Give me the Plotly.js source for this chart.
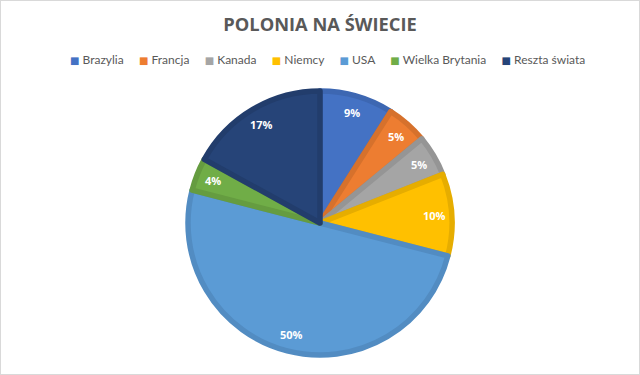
<!DOCTYPE html>
<html>
<head>
<meta charset="utf-8">
<script src="https://cdn.plot.ly/plotly-3.0.1.min.js"></script>
<style>
html,body{margin:0;padding:0;background:#fff;}
#chart{width:640px;height:375px;box-sizing:border-box;border:1px solid #d9d9d9;}
</style>
</head>
<body>
<div id="chart"></div>
<script>
const categories = ["Brazylia", "Francja", "Kanada", "Niemcy", "USA", "Wielka Brytania", "Reszta świata"];
const shares = [9, 5, 5, 10, 50, 4, 17];
const colors = ["#4472C4", "#ED7D31", "#A5A5A5", "#FFC000", "#5B9BD5", "#70AD47", "#264478"];
const borderColors = ["#3D67B2", "#D6712C", "#959595", "#E6AD00", "#528CC2", "#659C40", "#223D6C"];
const title = "POLONIA NA ŚWIECIE";

const W = 638, H = 373;          // plot size inside the 1px frame
const cx = 319, cy = 222;        // pie centre (px, plot coords)
const R = 132;                   // pie radius without stroke
const labelR = 115;              // radius where value labels sit

const trace = {
  type: "pie",
  labels: categories,
  values: shares,
  sort: false,
  direction: "clockwise",
  rotation: 0,
  marker: {colors: colors, line: {color: borderColors, width: 5.5}},
  textinfo: "none",
  hoverinfo: "label+percent",
  showlegend: false,
  domain: {x: [(cx - R) / W, (cx + R) / W], y: [1 - (cy + R) / H, 1 - (cy - R) / H]}
};

// value labels placed at each slice's mid angle (computed from the data)
const total = shares.reduce((a, b) => a + b, 0);
const annotations = [];
let cum = 0;
shares.forEach((v, i) => {
  const mid = (cum + v / 2) / total * 2 * Math.PI;
  cum += v;
  const px = cx + labelR * Math.sin(mid);
  const py = cy - labelR * Math.cos(mid);
  annotations.push({
    xref: "paper", yref: "paper", x: px / W, y: 1 - py / H,
    xanchor: "center", yanchor: "middle", showarrow: false,
    text: Math.round(v / total * 100) + "%",
    font: {family: "Open Sans", size: 11, color: "#ffffff", weight: "bold"}
  });
});

// legend row
const gap = "\u00A0\u00A0\u00A0\u00A0\u00A0";
const legendText = categories.map((c, i) =>
  `<span style="color:${colors[i]};font-family:'DejaVu Sans';font-size:10px">■</span>\u00A0${c}`
).join(gap);
annotations.push({
  xref: "paper", yref: "paper", x: 327 / W, y: 1 - 58 / H,
  xanchor: "center", yanchor: "middle", showarrow: false,
  text: legendText,
  font: {family: "Lato", size: 12, color: "#595959"}
});

const layout = {
  width: W, height: H,
  margin: {l: 0, r: 0, t: 0, b: 0},
  paper_bgcolor: "#ffffff",
  title: {text: title, x: 0.5, xanchor: "center", y: 1 - 24 / H, yanchor: "middle",
          font: {family: "Open Sans", size: 18.3, color: "#595959", weight: "bold"}},
  showlegend: false,
  annotations: annotations,
  font: {family: "Open Sans"}
};

Plotly.newPlot("chart", [trace], layout, {displayModeBar: false, staticPlot: true});
</script>
</body>
</html>
